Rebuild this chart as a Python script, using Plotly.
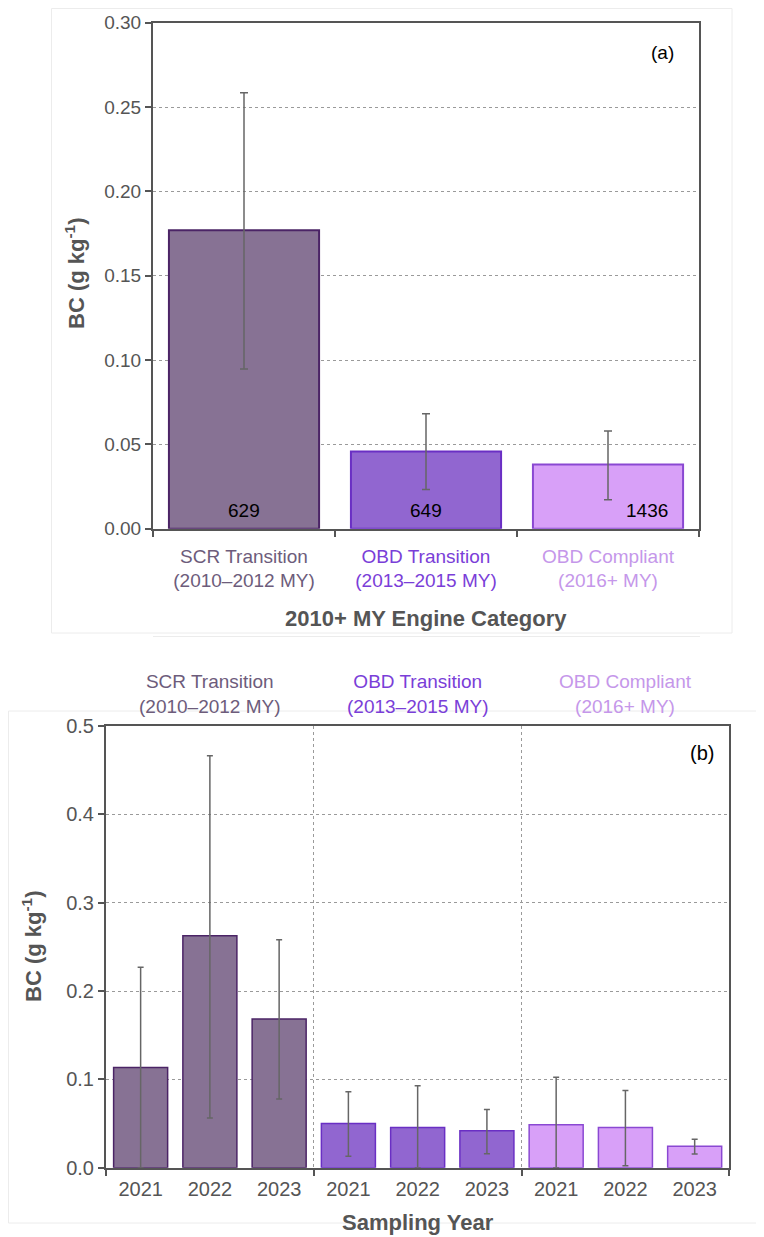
import plotly.graph_objects as go

# panel (a): mean BC by engine category
categories = ["SCR Transition", "OBD Transition", "OBD Compliant"]
category_years = ["(2010–2012 MY)", "(2013–2015 MY)", "(2016+ MY)"]
bc_mean = [0.177, 0.0458, 0.0381]
bc_upper = [0.2585, 0.0682, 0.0579]
bc_lower = [0.0947, 0.0233, 0.0172]
sample_counts = ["629", "649", "1436"]

# panel (b): BC by sampling year within each category
sampling_years = ["2021", "2022", "2023"] * 3
group_of_bar = [0, 0, 0, 1, 1, 1, 2, 2, 2]
year_mean = [0.1133, 0.2625, 0.1682, 0.0500, 0.0455, 0.0417, 0.0485, 0.0455, 0.0242]
year_upper = [0.2269, 0.4664, 0.2580, 0.0860, 0.0928, 0.0659, 0.1023, 0.0875, 0.0322]
year_lower = [0.0, 0.0564, 0.0777, 0.0129, 0.0, 0.0159, 0.0, 0.0023, 0.0155]

fill_colors = ["#877294", "#9166d0", "#d8a0f8"]
line_colors = ["#4b2466", "#6a2fc4", "#8a48d2"]
text_colors = ["#6d5c7b", "#7a3ed8", "#c597ea"]

# the page body keeps its default 8px margin, so the figure is drawn 8px in
OFF = 8
W, H = 764 - OFF, 1237 - OFF
FONT = "Liberation Sans, Arial, Helvetica, sans-serif"
GREY = "#555555"


def px(x):
    return (x - OFF) / W


def py(y):
    return 1 - (y - OFF) / H


fig = go.Figure()

fig.add_trace(go.Bar(
    x=list(range(len(categories))), y=bc_mean, width=0.825,
    marker=dict(color=fill_colors, line=dict(color=line_colors, width=2)),
    error_y=dict(type="data", symmetric=False,
                 array=[u - m for u, m in zip(bc_upper, bc_mean)],
                 arrayminus=[m - l for m, l in zip(bc_mean, bc_lower)],
                 color="#666666", thickness=1.5, width=4),
    xaxis="x", yaxis="y", showlegend=False))

fig.add_trace(go.Bar(
    x=list(range(len(year_mean))), y=year_mean, width=0.78,
    marker=dict(color=[fill_colors[g] for g in group_of_bar],
                line=dict(color=[line_colors[g] for g in group_of_bar], width=1.5)),
    error_y=dict(type="data", symmetric=False,
                 array=[u - m for u, m in zip(year_upper, year_mean)],
                 arrayminus=[m - l for m, l in zip(year_mean, year_lower)],
                 color="#666666", thickness=1.5, width=3),
    xaxis="x2", yaxis="y2", showlegend=False))

top_ticks = ["<span style='color:%s'>%s<br>%s</span>" % (c, n, y)
             for c, n, y in zip(text_colors, categories, category_years)]

axis_common = dict(showline=True, linecolor=GREY, linewidth=2, mirror=True,
                   zeroline=False, tickcolor=GREY, tickwidth=1.5, automargin=False)

fig.update_layout(
    width=W, height=H, margin=dict(l=0, r=0, t=0, b=0),
    paper_bgcolor="white", plot_bgcolor="white",
    font=dict(family=FONT, color=GREY),
    xaxis=dict(domain=[px(153), px(699)], anchor="y", range=[-0.5, 2.5],
               tickmode="array", tickvals=list(range(3)), ticktext=top_ticks,
               ticks="", showgrid=False, tickfont=dict(size=19),
               ticklabelstandoff=9,
               minor=dict(tickmode="array", tickvals=[-0.5, 0.5, 1.5, 2.5],
                          ticks="outside", ticklen=6, tickcolor=GREY, tickwidth=1.5,
                          showgrid=False),
               **axis_common),
    yaxis=dict(domain=[py(528.7), py(22.7)], anchor="x", range=[0, 0.30],
               dtick=0.05, tickformat=".2f", ticks="outside", ticklen=6,
               showgrid=True, gridcolor="#9a9a9a", griddash="dot", gridwidth=1,
               tickfont=dict(size=19), **axis_common),
    xaxis2=dict(domain=[px(106), px(729.3)], anchor="y2", range=[-0.5, 8.5],
                tickmode="array", tickvals=list(range(9)), ticktext=sampling_years,
                ticks="", showgrid=False, tickfont=dict(size=20),
                ticklabelstandoff=2,
                minor=dict(tickmode="array", tickvals=[-0.5, 2.5, 5.5, 8.5],
                           ticks="outside", ticklen=6, tickcolor=GREY, tickwidth=1.5,
                           showgrid=True, gridcolor="#9a9a9a", griddash="dot",
                           gridwidth=1),
                **axis_common),
    yaxis2=dict(domain=[py(1167.7), py(726)], anchor="x2", range=[0, 0.5],
                dtick=0.1, tickformat=".1f", ticks="outside", ticklen=6,
                showgrid=True, gridcolor="#9a9a9a", griddash="dot", gridwidth=1,
                tickfont=dict(size=20), **axis_common),
)

# count labels inside bars (a)
for i, n in enumerate(sample_counts):
    fig.add_annotation(x=i, y=0.0105, xref="x", yref="y", text=n, showarrow=False,
                       xanchor="center", yanchor="middle",
                       xshift=39 if i == 2 else 0,
                       font=dict(size=19, color="black"))

# group labels above (b)
for g in range(3):
    fig.add_annotation(x=3 * g + 1, y=py(694), xref="x2", yref="paper",
                       text="%s<br>%s" % (categories[g], category_years[g]),
                       showarrow=False, xanchor="center", yanchor="middle",
                       font=dict(size=19, color=text_colors[g]))


def label(x, y, text, size, color=GREY, angle=0):
    fig.add_annotation(x=px(x), y=py(y), xref="paper", yref="paper", text=text,
                       textangle=angle, showarrow=False,
                       xanchor="center", yanchor="middle",
                       font=dict(size=size, color=color))


# titles and panel tags
label(75, 274, "<b>BC (g kg<sup>-1</sup>)</b>", 22, angle=-90)
label(426, 618, "<b>2010+ MY Engine Category</b>", 22)
label(32, 947, "<b>BC (g kg<sup>-1</sup>)</b>", 22, angle=-90)
label(418, 1222, "<b>Sampling Year</b>", 22)
label(662, 52, "(a)", 19, color="black")
label(702, 753, "(b)", 20, color="black")

# faint frames around the two panels
faint = dict(color="#ececec", width=1)
fig.add_shape(type="rect", xref="paper", yref="paper",
              x0=px(51.5), x1=px(732), y0=py(633), y1=py(8.5), line=faint)
fig.add_shape(type="line", xref="paper", yref="paper",
              x0=px(153), x1=px(700), y0=py(636.5), y1=py(636.5), line=faint)
fig.add_shape(type="rect", xref="paper", yref="paper",
              x0=px(8.5), x1=px(775), y0=py(1223), y1=py(711), line=faint)

fig.write_html("out.html")
